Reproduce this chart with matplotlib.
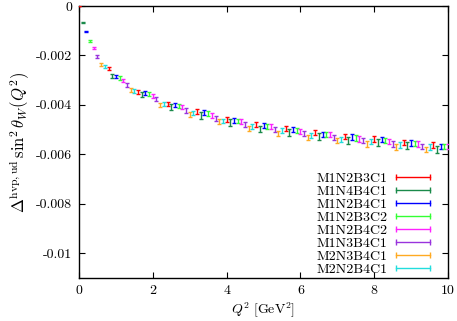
import matplotlib
matplotlib.use("Agg")
import matplotlib.pyplot as plt
from matplotlib.lines import Line2D

plt.rcParams['font.family'] = ['cmr10', 'DejaVu Serif']
plt.rcParams['mathtext.fontset'] = 'cm'
plt.rcParams['font.size'] = 10

labels = ["M1N2B3C1", "M1N4B4C1", "M1N2B4C1", "M1N2B3C2",
          "M1N2B4C2", "M1N3B4C1", "M2N3B4C1", "M2N2B4C1"]
colors = ["#ff0000", "#1a8a4a", "#0000ff", "#33ff33",
          "#ff22ff", "#9933dd", "#ffaa22", "#22dddd"]

q2_red = [0.0, 0.8, 1.6, 2.4, 3.2, 4.0, 4.8, 5.6, 6.4, 7.2, 8.0, 8.8, 9.6]
q2_dkgreen = [0.1, 0.9, 1.7, 2.5, 3.3, 4.1, 4.9, 5.7, 6.5, 7.3, 8.1, 8.9, 9.7]
q2_blue = [0.2, 1.0, 1.8, 2.6, 3.4, 4.2, 5.0, 5.8, 6.6, 7.4, 8.2, 9.0, 9.8]
q2_green = [0.3, 1.1, 1.9, 2.7, 3.5, 4.3, 5.1, 5.9, 6.7, 7.5, 8.3, 9.1, 9.9]
q2_magenta = [0.4, 1.2, 2.0, 2.8, 3.6, 4.4, 5.2, 6.0, 6.8, 7.6, 8.4, 9.2, 10.0]
q2_purple = [0.5, 1.3, 2.1, 2.9, 3.7, 4.5, 5.3, 6.1, 6.9, 7.7, 8.5, 9.3]
q2_orange = [0.6, 1.4, 2.2, 3.0, 3.8, 4.6, 5.4, 6.2, 7.0, 7.8, 8.6, 9.4]
q2_cyan = [0.7, 1.5, 2.3, 3.1, 3.9, 4.7, 5.5, 6.3, 7.1, 7.9, 8.7, 9.5]

val_red = [0.0, -0.00253, -0.00348, -0.00396, -0.00427, -0.00458, -0.00478,
           -0.00495, -0.00511, -0.00527, -0.00538, -0.00551, -0.00562]
val_dkgreen = [-0.00065, -0.00284, -0.00358, -0.00408, -0.00443, -0.00471, -0.00498,
               -0.00511, -0.00527, -0.00545, -0.00551, -0.00565, -0.00581]
val_blue = [-0.00104, -0.00284, -0.00353, -0.00400, -0.00431, -0.00462, -0.00482,
            -0.00500, -0.00518, -0.00529, -0.00541, -0.00554, -0.00568]
val_green = [-0.00140, -0.00292, -0.00356, -0.00404, -0.00435, -0.00465, -0.00487,
             -0.00505, -0.00518, -0.00534, -0.00545, -0.00556, -0.00569]
val_magenta = [-0.00170, -0.00301, -0.00364, -0.00409, -0.00442, -0.00469, -0.00489,
               -0.00507, -0.00518, -0.00538, -0.00547, -0.00558, -0.00568]
val_purple = [-0.00204, -0.00319, -0.00376, -0.00424, -0.00455, -0.00478,
              -0.00498, -0.00515, -0.00531, -0.00545, -0.00558, -0.00568]
val_orange = [-0.00237, -0.00340, -0.00400, -0.00438, -0.00469, -0.00494,
              -0.00514, -0.00531, -0.00545, -0.00558, -0.00571, -0.00581]
val_cyan = [-0.00246, -0.00343, -0.00398, -0.00433, -0.00465, -0.00489,
            -0.00505, -0.00522, -0.00538, -0.00549, -0.00562, -0.00571]

err_red = [0.0, 0.00006, 0.00008, 0.00009, 0.0001, 0.0001, 0.0001,
           0.0001, 0.0001, 0.00011, 0.00011, 0.00011, 0.00011]
err_dkgreen = [0.00002, 0.00008, 0.0001, 0.00012, 0.00013, 0.00013, 0.00013,
               0.00013, 0.00014, 0.00014, 0.00014, 0.00014, 0.00014]
err_blue = [0.00003, 0.00006, 0.00008, 0.00009, 0.0001, 0.0001, 0.0001,
            0.0001, 0.0001, 0.00011, 0.00011, 0.00011, 0.00011]
err_green = [0.00004, 0.00007, 0.00008, 0.00009, 0.0001, 0.0001, 0.0001,
             0.0001, 0.0001, 0.00011, 0.00011, 0.00011, 0.00011]
err_magenta = [0.00005, 0.00007, 0.00008, 0.00009, 0.0001, 0.0001, 0.0001,
               0.0001, 0.0001, 0.00011, 0.00011, 0.00011, 0.00011]
err_purple = [0.00006, 0.00008, 0.00009, 0.0001, 0.0001, 0.0001,
              0.0001, 0.0001, 0.00011, 0.00011, 0.00011, 0.00011]
err_orange = [0.00006, 0.00008, 0.00009, 0.0001, 0.0001, 0.0001,
              0.0001, 0.0001, 0.00011, 0.00011, 0.00011, 0.00011]
err_cyan = [0.00006, 0.00007, 0.00008, 0.00009, 0.0001, 0.0001,
            0.0001, 0.0001, 0.0001, 0.00011, 0.00011, 0.00011]

series_q2 = [q2_red, q2_dkgreen, q2_blue, q2_green, q2_magenta, q2_purple, q2_orange, q2_cyan]
series_val = [val_red, val_dkgreen, val_blue, val_green, val_magenta, val_purple, val_orange, val_cyan]
series_err = [err_red, err_dkgreen, err_blue, err_green, err_magenta, err_purple, err_orange, err_cyan]

xticks = [0, 2, 4, 6, 8, 10]
xticklabels = ["0", "2", "4", "6", "8", "10"]
yticks = [0, -0.002, -0.004, -0.006, -0.008, -0.01]
yticklabels = ["0", "-0.002", "-0.004", "-0.006", "-0.008", "-0.01"]

fig = plt.figure(figsize=(4.57, 3.21), dpi=100)
ax = fig.add_axes([79 / 457, 1 - 278 / 321, (448 - 79) / 457, (278 - 6) / 321])

handles = []
for q, v, e, c, lab in zip(series_q2, series_val, series_err, colors, labels):
    ax.errorbar(q, v, yerr=e, fmt='none', ecolor=c, elinewidth=1.0,
                capsize=1.6, capthick=1.0, zorder=3)
    handles.append(Line2D([0, 1], [0, 0], color=c, lw=1.0, marker='|',
                          markersize=4, markeredgewidth=1.0, label=lab))

ax.set_xlim(0, 10)
ax.set_ylim(-0.011, 0)
ax.set_xticks(xticks)
ax.set_xticklabels(xticklabels)
ax.set_yticks(yticks)
ax.set_yticklabels(yticklabels)
ax.tick_params(direction='in', length=4.5, width=0.8, top=True, right=True,
               labelsize=10, pad=5)
for s in ax.spines.values():
    s.set_linewidth(1.0)

ax.set_xlabel(r'$Q^2\ [\mathrm{GeV}^2]$', fontsize=10, labelpad=3)
ax.set_ylabel(r'$\Delta^{\mathrm{hvp,ud}}\,\sin^2\theta_W(Q^2)$', fontsize=12, labelpad=3)

leg = ax.legend(handles=handles, loc='lower right', bbox_to_anchor=(0.99, -0.027),
                frameon=False, markerfirst=False, numpoints=2, handlelength=3.1,
                handletextpad=0.3, labelspacing=0.02, borderaxespad=0.3,
                fontsize=10)
for t in leg.get_texts():
    t.set_ha('right')

fig.savefig("out.png", dpi=100)
